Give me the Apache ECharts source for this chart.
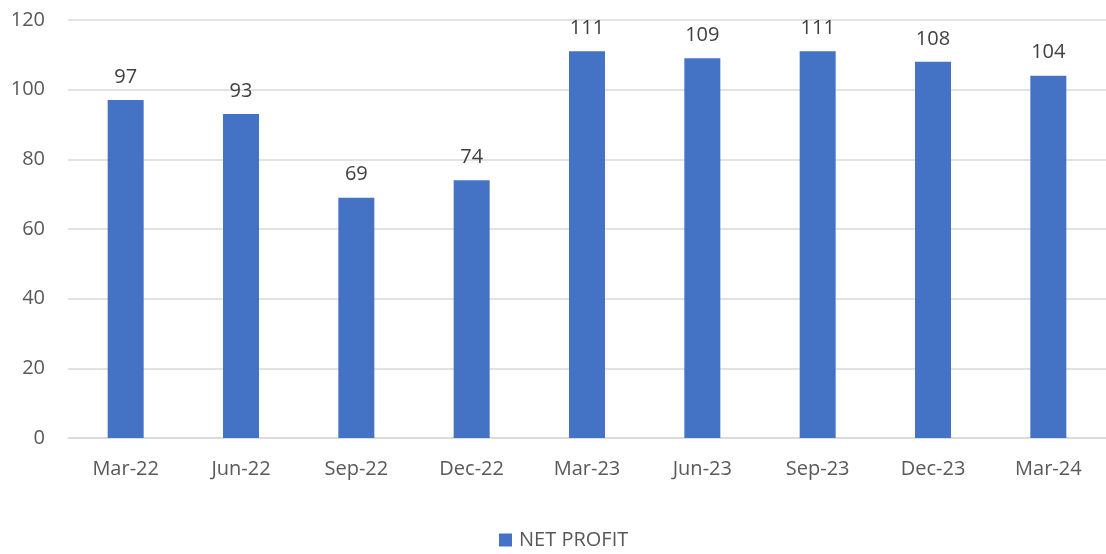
<!DOCTYPE html>
<html><head><meta charset="utf-8">
<script src="https://cdn.jsdelivr.net/npm/echarts@6/dist/echarts.min.js"></script>
<style>html,body{margin:0;padding:0;background:#fff}#c{width:1106px;height:554px}</style>
</head><body><div id="c"></div>
<script>
const categories = ['Mar-22','Jun-22','Sep-22','Dec-22','Mar-23','Jun-23','Sep-23','Dec-23','Mar-24'];
const netProfit = [97, 93, 69, 74, 111, 109, 111, 108, 104];
const yTicks = {min: 0, max: 120, interval: 20};
const font = '"Open Sans", "Liberation Sans", sans-serif';
const chart = echarts.init(document.getElementById('c'));
chart.setOption({
  animation: false,
  textStyle: {fontFamily: font},
  grid: {left: 68, right: -2, top: 20, bottom: 116, containLabel: false},
  legend: {
    bottom: 4, left: 499, padding: 0, itemWidth: 13, itemHeight: 13, itemGap: 8,
    icon: 'rect',
    textStyle: {fontSize: 20, color: '#595959', fontFamily: font, padding: [0, 0, 0, 2]},
    data: ['NET PROFIT']
  },
  xAxis: {
    type: 'category', data: categories,
    axisLine: {lineStyle: {color: '#D9D9D9', width: 1.5}},
    axisTick: {show: false},
    axisLabel: {fontSize: 20, color: '#595959', margin: 21, fontFamily: font}
  },
  yAxis: {
    type: 'value', min: yTicks.min, max: yTicks.max, interval: yTicks.interval,
    axisLine: {show: false}, axisTick: {show: false},
    splitLine: {lineStyle: {color: '#D9D9D9', width: 1.5}},
    axisLabel: {fontSize: 20, color: '#595959', margin: 23, fontFamily: font}
  },
  series: [{
    name: 'NET PROFIT', type: 'bar', data: netProfit, barWidth: 36,
    itemStyle: {color: '#4472C4'},
    label: {show: true, position: 'top', distance: 13, fontSize: 20, color: '#404040', fontFamily: font}
  }]
});
</script></body></html>
